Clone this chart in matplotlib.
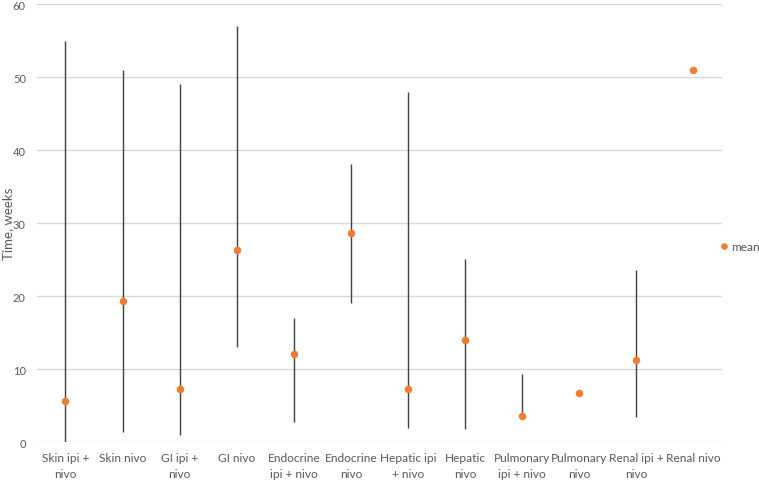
import numpy as np
import matplotlib
matplotlib.use('Agg')
import matplotlib.pyplot as plt

plt.rcParams['font.family'] = ['Lato', 'DejaVu Sans']

categories = ['Skin ipi +\nnivo', 'Skin nivo', 'GI ipi +\nnivo', 'GI nivo',
              'Endocrine\nipi + nivo', 'Endocrine\nnivo', 'Hepatic ipi\n+ nivo',
              'Hepatic\nnivo', 'Pulmonary\nipi + nivo', 'Pulmonary\nnivo',
              'Renal ipi +\nnivo', 'Renal nivo']
range_max = [55, 51, 49, 57, 17.0, 38.1, 48.0, 25.1, 9.4, np.nan, 23.6, np.nan]
range_min = [0, 1.4, 1.0, 13.0, 2.8, 19.1, 2.0, 1.8, 3.6, np.nan, 3.4, np.nan]
mean = [5.6, 19.3, 7.3, 26.3, 12.1, 28.6, 7.3, 14.0, 3.6, 6.7, 11.3, 50.9]

text_color = '#595959'

fig = plt.figure(figsize=(7.59, 4.81), dpi=100)
ax = fig.add_axes([0.0487, 0.0784, 0.9023, 0.9112])

x = np.arange(len(categories))
# min-max range lines
ax.vlines(x, range_min, range_max, color='#404040', linewidth=1.0, zorder=2)
ax.plot(x, mean, 'o', color='#ED7D31', markersize=4.4, label='mean', zorder=3)

ax.set_xlim(-0.5, len(categories) - 0.5)
ax.set_ylim(0, 60)
ax.set_yticks(range(0, 61, 10))
ax.yaxis.grid(True, color='#d9d9d9', linewidth=1.0)
ax.set_axisbelow(True)
for s in ax.spines.values():
    s.set_visible(False)
ax.tick_params(axis='both', length=0, colors=text_color, labelsize=8)
ax.tick_params(axis='y', pad=8)
ax.tick_params(axis='x', pad=7)
ax.set_xticks(x)
ax.set_xticklabels(categories, fontsize=8.6, color=text_color, linespacing=1.5)
ax.set_ylabel('Time, weeks', fontsize=9.5, color=text_color)
ax.yaxis.set_label_coords(-0.033, 0.5)

ax.legend(loc='center left', bbox_to_anchor=(0.998, 0.446), frameon=False,
          fontsize=8.6, handletextpad=0.3, markerscale=0.85, labelcolor=text_color,
          handlelength=0.6, borderaxespad=0, borderpad=0)

fig.savefig('out.png', dpi=100)
